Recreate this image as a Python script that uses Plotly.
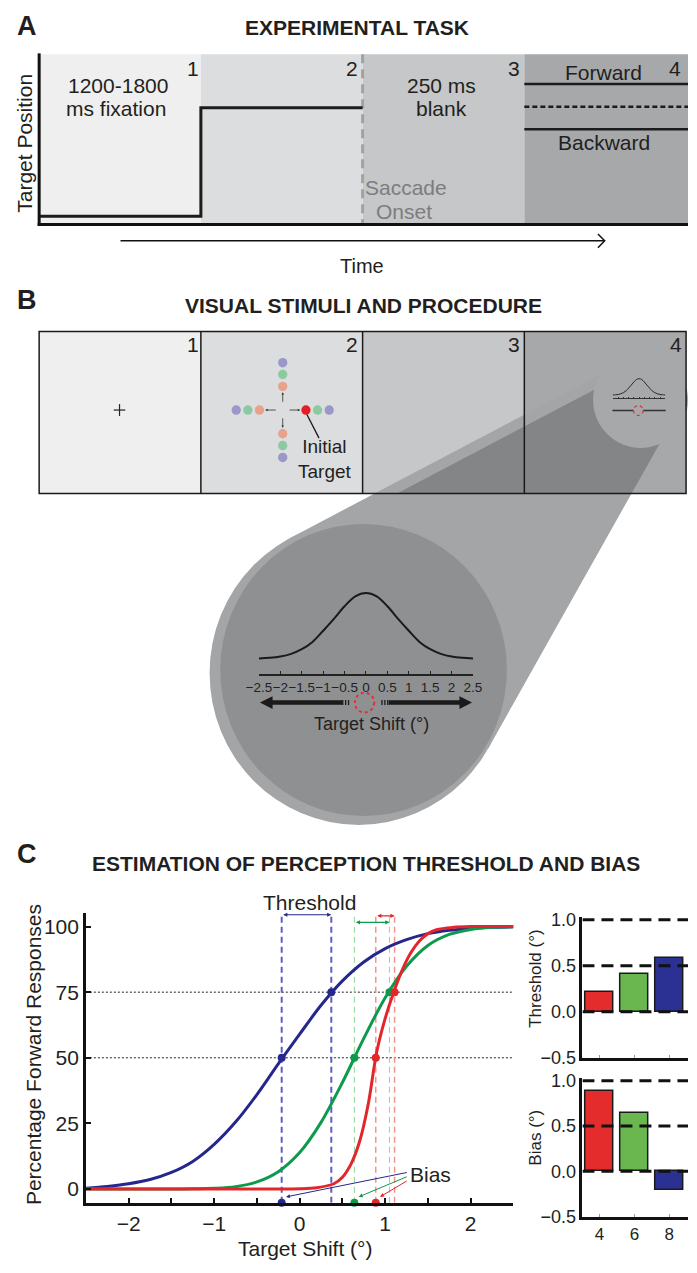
import plotly.graph_objects as go

W, H = 697, 1273
INK = "#231f20"
FONT = "Liberation Sans, Arial, sans-serif"

# ------------------------------------------------------------------ data
# Panel C : psychometric functions (percentage of "forward" responses)
conditions = [4, 6, 8]
curve_colors = ["#e3262b", "#0e9a4c", "#25278c"]
dash_colors = ["#f0948c", "#8fd694", "#5d5dc8"]
bar_colors = ["#e42c2c", "#6ab74f", "#2a3192"]
threshold_deg = [0.22, 0.41, 0.58]
bias_deg = [0.89, 0.64, -0.21]

shift_grid = [-2.5, -2.25, -2.0, -1.75, -1.5, -1.25, -1.0, -0.75, -0.5, -0.25,
              0.0, 0.25, 0.5, 0.75, 1.0, 1.25, 1.5, 1.75, 2.0, 2.25, 2.5]
resp_cond8 = [0.3, 1.0, 2.0, 3.6, 6.3, 10.5, 17.0, 25.5, 36.0, 47.7,
              59.0, 70.0, 79.3, 86.5, 91.6, 95.0, 97.3, 98.6, 99.3, 99.7, 99.9]
resp_cond6 = [0.0, 0.0, 0.0, 0.0, 0.0, 0.1, 0.3, 0.9, 2.7, 6.6,
              13.9, 25.4, 40.6, 57.4, 72.9, 84.9, 92.8, 97.0, 98.9, 99.7, 99.9]
shift_fine = [-2.5, -1.0, 0.0, 0.2, 0.4, 0.5, 0.6, 0.7, 0.8, 0.9,
              1.0, 1.1, 1.2, 1.3, 1.4, 1.5, 1.6, 1.8, 2.0, 2.5]
resp_cond4 = [0.0, 0.0, 0.1, 0.5, 2.0, 4.5, 9.5, 18.0, 32.0, 52.0,
              65.0, 75.0, 83.5, 90.0, 94.5, 97.3, 98.8, 99.7, 100.0, 100.0]

pf_yticks = [0, 25, 50, 75, 100]
pf_xticks = [-2, -1.5, -1, -0.5, 0, 0.5, 1, 1.5, 2]
pf_xtick_text = ["−2", "", "−1", "", "0", "", "1", "", "2"]
bar_yticks = [-0.5, 0.0, 0.5, 1.0]
bar_ytick_text = ["−0.5", "0.0", "0.5", "1.0"]
bar_ref_levels = [0.0, 0.5, 1.0]

# Panel B : target-shift distribution (schematic gaussian)
gauss_y = [0.01, 0.02, 0.04, 0.08, 0.15, 0.26, 0.43, 0.61, 0.80, 0.95, 1.0,
           0.95, 0.80, 0.61, 0.43, 0.26, 0.15, 0.08, 0.04, 0.02, 0.01]
shift_ticks = [-2.5, -2, -1.5, -1, -0.5, 0, 0.5, 1, 1.5, 2, 2.5]
shift_tick_text = ["−2.5", "−2", "−1.5", "−1", "−0.5", "0", "0.5", "1", "1.5", "2", "2.5"]

# ------------------------------------------------------------------ helpers
def px(x):
    return x / W


def py(y):
    return 1 - y / H


shapes = []
annots = []


def add_rect(x0, y0, x1, y1, fill, lc=None, lw=0, layer="below"):
    shapes.append(dict(type="rect", xref="paper", yref="paper", layer=layer,
                       x0=px(x0), x1=px(x1), y0=py(y1), y1=py(y0),
                       fillcolor=fill, line=dict(color=lc or fill, width=lw)))


def add_line(x0, y0, x1, y1, color=INK, width=1.5, dash="solid"):
    shapes.append(dict(type="line", xref="paper", yref="paper", layer="below",
                       x0=px(x0), x1=px(x1), y0=py(y0), y1=py(y1),
                       line=dict(color=color, width=width, dash=dash)))


def add_path(pts, fill=None, lc=None, lw=0, closed=True):
    d = "M " + " L ".join(f"{px(x):.5f},{py(y):.5f}" for x, y in pts)
    if closed:
        d += " Z"
    shapes.append(dict(type="path", xref="paper", yref="paper", layer="below",
                       path=d, fillcolor=fill or "rgba(0,0,0,0)",
                       line=dict(color=lc or "rgba(0,0,0,0)", width=lw)))


def add_circle(cx, cy, r, fill, lc=None, lw=0, dash="solid"):
    shapes.append(dict(type="circle", xref="paper", yref="paper", layer="below",
                       x0=px(cx - r), x1=px(cx + r), y0=py(cy + r), y1=py(cy - r),
                       fillcolor=fill, line=dict(color=lc or fill, width=lw, dash=dash)))


def txt(x, y, s, size=21, color=INK, bold=False, xanchor="center", angle=0):
    a = dict(xref="paper", yref="paper", x=px(x), y=py(y),
             text=f"<b>{s}</b>" if bold else s, showarrow=False,
             xanchor=xanchor, yanchor="middle", textangle=angle, borderpad=0,
             font=dict(size=size, color=color, family=FONT))
    annots.append(a)


# ------------------------------------------------------------------ panel A
P1, P2, P3, P4 = "#efefef", "#dcdddf", "#c5c7c9", "#a6a8aa"
secs = [27, 194, 361, 528, 697]
for i, c in enumerate([P1, P2, P3, P4]):
    add_rect(secs[i], 48, secs[i + 1], 220, c)
add_line(361, 48, 361, 220, "#a2a2a2", 3, "9px,6px")
add_path([(27, 212), (194, 212), (194, 102), (361, 102)], lc="#1c1c1c", lw=3, closed=False)
add_line(528, 78, 697, 78, "#1c1c1c", 2.5)
add_line(528, 101, 697, 101, "#1c1c1c", 2.5, "5px,3px")
add_line(528, 124, 697, 124, "#1c1c1c", 2.5)
add_line(27, 47, 27, 222, "#111", 3)
add_line(25.5, 220.5, 697, 220.5, "#111", 3)
add_line(111, 237, 611, 237, "#111", 1.5)
add_path([(604, 230), (611, 237), (604, 244)], lc="#111", lw=1.5, closed=False)

txt(14, 19, "A", 27, bold=True)
txt(355, 21, "EXPERIMENTAL TASK", 21, bold=True)
txt(12, 138, "Target Position", 21, angle=-90)
txt(186, 62, "1"); txt(350, 62, "2"); txt(517, 62, "3"); txt(684, 62, "4")
txt(108, 80, "1200-1800"); txt(106, 103, "ms fixation")
txt(442, 80, "250 ms"); txt(442, 103, "blank")
txt(610, 66, "Forward"); txt(610, 137, "Backward")
txt(406, 183, "Saccade", color="#7d7d7d"); txt(404, 207, "Onset", color="#7d7d7d")
txt(360, 262, "Time", 20)

# ------------------------------------------------------------------ panel B
bx = [27, 194, 361, 528, 695]
for i, c in enumerate([P1, P2, P3, P4]):
    add_rect(bx[i], 329, bx[i + 1], 493, c)
CONE, DARK, DISC = "#a3a5a7", "#848587", "#8e9092"
add_path([(629, 361), (286.3, 538.1), (357, 675), (490.7, 751.5), (682, 417.5), (648, 398)], fill=CONE)
add_path([(396.5, 493), (638.7, 493), (682, 417.5), (648, 398), (640, 367.3)], fill=DARK)
add_circle(648, 398, 49, P4)
add_rect(27, 329, 695, 493, "rgba(0,0,0,0)", "#1a1a1a", 1.5)
for xv in bx[1:4]:
    add_line(xv, 329, xv, 493, "#1a1a1a", 1.5)
# fixation cross
add_line(104, 408.5, 116, 408.5, "#222", 1.2)
add_line(110, 402.5, 110, 414.5, "#222", 1.2)
# saccade targets
PUR, GRN, SAL, RED = "#9a97c9", "#8cc9a1", "#e8a18c", "#e41e26"
cx0, cy0 = 278.5, 408.5
for k, col in enumerate([SAL, GRN, PUR]):
    d = 24 + 12 * k
    add_circle(cx0 - d, cy0, 4.8, col)
    add_circle(cx0, cy0 - d, 4.8, col)
    add_circle(cx0, cy0 + d, 4.8, col)
    add_circle(cx0 + d, cy0, 4.8, RED if k == 0 else col)
for (tx, ty, ax, ay) in [(296.5, cy0, -12, 0), (260.5, cy0, 12, 0),
                         (cx0, 390.5, 0, 11), (cx0, 426.5, 0, -11)]:
    annots.append(dict(xref="paper", yref="paper", x=px(tx), y=py(ty), ax=ax, ay=ay,
                       text="", showarrow=True, arrowhead=2, arrowsize=0.6,
                       arrowwidth=0.8, arrowcolor="#333"))
add_line(303.5, 413, 316, 437, "#1a1a1a", 1.3)
txt(322, 458.5, "Initial<br>Target", 19)
# mini display in panel 4
add_line(619, 409, 674, 409, "#333", 1.5)
add_circle(645.7, 409, 5, P4, "#e0303a", 1.2, "dot")
# magnified disc
add_circle(357, 675, 154, CONE)
add_circle(362, 672, 148, DISC)
add_line(340, 705, 266, 705, "#1a1a1a", 4.5)
add_path([(255, 705), (268, 698.5), (268, 711.5)], fill="#1a1a1a")
add_line(388, 705, 462, 705, "#1a1a1a", 4.5)
add_path([(474, 705), (461, 698.5), (461, 711.5)], fill="#1a1a1a")
for xv in [340.5, 343.5, 346.5, 381, 384, 387]:
    add_line(xv, 702.5, xv, 707.5, "#1a1a1a", 1.3)
add_circle(363, 705, 10, DISC, "#e0303a", 2, "dot")

txt(14, 297, "B", 27, bold=True)
txt(362, 303, "VISUAL STIMULI AND PROCEDURE", 21, bold=True)
txt(186, 342, "1"); txt(350, 342, "2"); txt(517, 342, "3"); txt(685, 342, "4")
txt(370, 727, "Target Shift (°)", 18)

# ------------------------------------------------------------------ panel C text
txt(14, 858, "C", 27, bold=True)
txt(365, 868, "ESTIMATION OF PERCEPTION THRESHOLD AND BIAS", 21, bold=True)
txt(22, 1062, "Percentage Forward Responses", 21, angle=-90)
txt(302, 1258, "Target Shift (°)", 21)
txt(306, 908, "Threshold", 21)
txt(409, 1183, "Bias", 21, xanchor="left")
txt(540, 985, "Threshold (°)", 17, angle=-90)
txt(540, 1146, "Bias (°)", 17, angle=-90)

# ------------------------------------------------------------------ traces
fig = go.Figure()
Y0, YTOP = -5.26, 105.2

for lev in [50, 75]:
    fig.add_trace(go.Scatter(x=[-2.5, 2.5], y=[lev, lev], mode="lines",
                             line=dict(color="#222", width=1, dash="2px,2px"),
                             xaxis="x", yaxis="y", hoverinfo="skip"))
dash_w = [1.5, 1.0, 2.0]
for i in range(3):
    b, t = bias_deg[i], threshold_deg[i]
    for xv in [b, b + t]:
        fig.add_trace(go.Scatter(x=[xv, xv], y=[Y0, 104.5], mode="lines",
                                 line=dict(color=dash_colors[i], width=dash_w[i], dash="6px,4px"),
                                 xaxis="x", yaxis="y", hoverinfo="skip"))
curves = [(shift_grid, resp_cond8, 2), (shift_grid, resp_cond6, 1), (shift_fine, resp_cond4, 0)]
for xs, ys, i in curves:
    fig.add_trace(go.Scatter(x=xs, y=ys, mode="lines",
                             line=dict(color=curve_colors[i], width=3, shape="spline", smoothing=0.9),
                             xaxis="x", yaxis="y"))
for i in [2, 1, 0]:
    b, t = bias_deg[i], threshold_deg[i]
    fig.add_trace(go.Scatter(x=[b, b + t, b], y=[50, 75, Y0], mode="markers",
                             marker=dict(color=curve_colors[i], size=8), cliponaxis=False,
                             xaxis="x", yaxis="y"))

bracket_y = [104.1, 101.6, 104.5]
tail_y = [3.4, 4.9, 6.4]
for i in range(3):
    b, t = bias_deg[i], threshold_deg[i]
    annots.append(dict(xref="x", yref="y", axref="x", ayref="y", x=b + t, y=bracket_y[i],
                       ax=b, ay=bracket_y[i], text="", showarrow=True, arrowside="end+start",
                       arrowhead=2, arrowsize=0.7, arrowwidth=1.2, arrowcolor=curve_colors[i]))
    annots.append(dict(xref="x", yref="y", axref="x", ayref="y", x=b + 0.05, y=-3.0,
                       ax=1.27, ay=tail_y[i], text="", showarrow=True, arrowhead=2,
                       arrowsize=0.8, arrowwidth=1, arrowcolor=curve_colors[i]))

for xa, ya, vals in [("x2", "y2", threshold_deg), ("x3", "y3", bias_deg)]:
    for lev in bar_ref_levels:
        fig.add_trace(go.Scatter(x=[3.02, 9.1], y=[lev, lev], mode="lines",
                                 line=dict(color="#111", width=3, dash="12px,7px"),
                                 xaxis=xa, yaxis=ya, hoverinfo="skip"))
    fig.add_trace(go.Bar(x=conditions, y=vals, width=1.64,
                         marker=dict(color=bar_colors, line=dict(color="#1a1a1a", width=1.5)),
                         xaxis=xa, yaxis=ya))

fig.add_trace(go.Scatter(x=shift_grid, y=gauss_y, mode="lines",
                         line=dict(color="#1a1a1a", width=2, shape="spline"),
                         xaxis="x4", yaxis="y4"))
fig.add_trace(go.Scatter(x=shift_grid, y=gauss_y, mode="lines",
                         line=dict(color="#2a2a2a", width=1, shape="spline"),
                         xaxis="x5", yaxis="y5"))

# ------------------------------------------------------------------ axes
def dom_x(a, b):
    return [px(a), px(b)]


def dom_y(top, bottom):
    return [py(bottom), py(top)]


common = dict(showgrid=False, zeroline=False, fixedrange=True)
fig.update_layout(
    width=W, height=H, margin=dict(l=0, r=0, t=0, b=0, pad=0),
    paper_bgcolor="white", plot_bgcolor="rgba(0,0,0,0)", showlegend=False,
    font=dict(family=FONT, color=INK), bargap=0,
    xaxis=dict(domain=dom_x(75.25, 516.75), range=[-2.5, 2.5], anchor="y",
               showline=True, linecolor="#111", linewidth=2.5, ticks="inside",
               ticklen=5, tickwidth=1.5, tickcolor="#111", tickvals=pf_xticks,
               ticktext=pf_xtick_text, tickangle=0, tickfont=dict(size=21, color=INK), **common),
    yaxis=dict(domain=dom_y(1198 - YTOP * 2.66, 1212), range=[Y0, YTOP], anchor="x",
               showline=True, linecolor="#111", linewidth=2.5, ticks="inside",
               ticklen=5, tickwidth=1.5, tickcolor="#111", tickvals=pf_yticks,
               tickfont=dict(size=21, color=INK), **common),
    xaxis2=dict(domain=dom_x(588, 697), range=[3.02, 9.07], anchor="y2",
                showline=True, linecolor="#111", linewidth=2.5, ticks="inside",
                ticklen=3, tickcolor="#999", tickvals=conditions, showticklabels=False, **common),
    yaxis2=dict(domain=dom_y(922.2, 1065), range=[-0.5, 1.03], anchor="x2",
                showline=True, linecolor="#111", linewidth=2.5, ticks="",
                tickvals=bar_yticks, ticktext=bar_ytick_text,
                tickfont=dict(size=18, color=INK), **common),
    xaxis3=dict(domain=dom_x(588, 697), range=[3.02, 9.07], anchor="y3",
                showline=True, linecolor="#111", linewidth=2.5, ticks="inside",
                ticklen=3, tickcolor="#999", tickvals=conditions, tickangle=0,
                tickfont=dict(size=17, color=INK), **common),
    yaxis3=dict(domain=dom_y(1085.5, 1226), range=[-0.5, 1.03], anchor="x3",
                showline=True, linecolor="#111", linewidth=2.5, ticks="",
                tickvals=bar_yticks, ticktext=bar_ytick_text,
                tickfont=dict(size=18, color=INK), **common),
    xaxis4=dict(domain=dom_x(254, 475), range=[-2.5, 2.5], anchor="y4",
                showline=True, linecolor="#222", linewidth=2, ticks="inside",
                ticklen=3, tickcolor="#222", tickvals=shift_ticks, ticktext=shift_tick_text,
                tickangle=0, tickfont=dict(size=13.5, color=INK), **common),
    yaxis4=dict(domain=dom_y(590.6, 676), range=[-0.224, 1.05], anchor="x4",
                visible=False, **common),
    xaxis5=dict(domain=dom_x(619.5, 673.5), range=[-2.5, 2.5], anchor="y5",
                showline=True, linecolor="#333", linewidth=1, ticks="inside",
                ticklen=1.5, tickcolor="#333", tickvals=shift_ticks,
                showticklabels=False, **common),
    yaxis5=dict(domain=dom_y(375.9, 396.7), range=[-0.2, 1.05], anchor="x5",
                visible=False, **common),
    shapes=shapes, annotations=annots,
)

fig.write_html(
    "out.html",
    config={"displayModeBar": False, "responsive": False},
    post_script="document.body.style.margin='0';document.body.style.padding='0';"
                "document.documentElement.style.overflow='hidden';",
)
